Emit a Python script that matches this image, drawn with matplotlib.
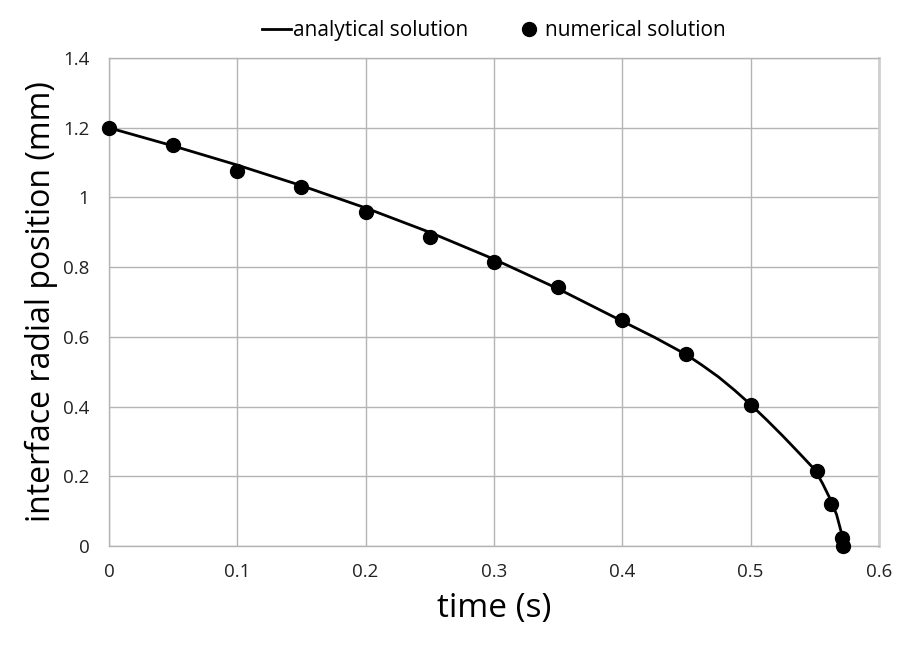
import matplotlib
matplotlib.use('Agg')
import matplotlib.pyplot as plt

# analytical solution
t_ana = [0, 0.05, 0.1, 0.15, 0.2, 0.25, 0.3, 0.35, 0.4, 0.425, 0.45, 0.4625, 0.475,
         0.4875, 0.5, 0.5125, 0.525, 0.5375, 0.55, 0.556, 0.562, 0.567, 0.5735]
r_ana = [1.2, 1.148, 1.093, 1.034, 0.970, 0.900, 0.823, 0.738, 0.645, 0.599, 0.549,
         0.518, 0.485, 0.447, 0.406, 0.362, 0.316, 0.268, 0.219, 0.180, 0.135, 0.090,
         0.0]

# numerical solution (markers)
t_num = [0, 0.05, 0.1, 0.15, 0.2, 0.25, 0.3, 0.35, 0.4, 0.45, 0.5, 0.552, 0.563,
         0.571, 0.572]
r_num = [1.2, 1.150, 1.076, 1.030, 0.958, 0.886, 0.815, 0.743, 0.648, 0.551, 0.404,
         0.215, 0.120, 0.023, 0.0]

x_ticks = [0, 0.1, 0.2, 0.3, 0.4, 0.5, 0.6]
y_ticks = [0, 0.2, 0.4, 0.6, 0.8, 1.0, 1.2, 1.4]

plt.rcParams['font.family'] = ['Open Sans', 'DejaVu Sans']

fig = plt.figure(figsize=(9, 6.48), dpi=100)
ax = fig.add_axes((0.121, 0.1574, 0.8556, 0.753))

ax.plot(t_ana, r_ana, color='black', linewidth=2.0, label='analytical solution', zorder=3)
ax.plot(t_num, r_num, linestyle='none', marker='o', markersize=10, color='black',
        label='numerical solution', zorder=4, clip_on=False)

ax.set_xlim(0, 0.6)
ax.set_ylim(0, 1.4)
ax.set_xticks(x_ticks)
ax.set_xticklabels(['0', '0.1', '0.2', '0.3', '0.4', '0.5', '0.6'])
ax.set_yticks(y_ticks)
ax.set_yticklabels(['0', '0.2', '0.4', '0.6', '0.8', '1', '1.2', '1.4'])
ax.tick_params(length=0, labelsize=13.5, pad=12, colors='#222222')
ax.tick_params(axis='y', pad=14)

ax.grid(color='#b4b4b4', linewidth=1.0, zorder=0)
ax.set_axisbelow(True)
for side in ['left', 'bottom', 'top']:
    ax.spines[side].set_color('#b4b4b4')
    ax.spines[side].set_linewidth(1.0)
ax.spines['right'].set_color('#cfcfcf')
ax.spines['right'].set_linewidth(2.0)

ax.set_xlabel('time (s)', fontsize=24, labelpad=8)
ax.set_ylabel('interface radial position (mm)', fontsize=23, labelpad=4)

ax.legend(loc='lower center', bbox_to_anchor=(0.5, 1.0), ncol=2, frameon=False,
          fontsize=15, handlelength=1.4, handletextpad=0.1, columnspacing=2.2,
          borderaxespad=0.4)

fig.savefig('out.png', dpi=100)
